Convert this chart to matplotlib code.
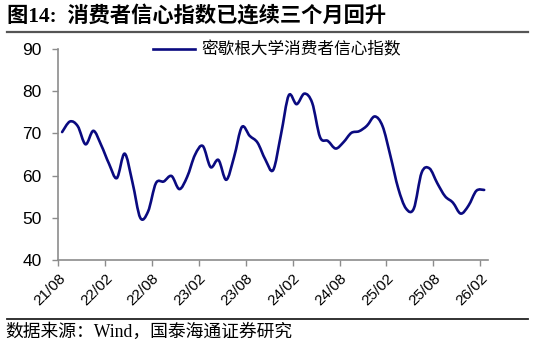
import numpy as np
import matplotlib.pyplot as plt
from matplotlib.path import Path
from matplotlib.patches import PathPatch
from matplotlib.lines import Line2D

plt.rcParams['font.family'] = ['Liberation Sans', 'Noto Sans CJK SC']

# 密歇根大学消费者信心指数, monthly 2021/08 - 2026/02
values = [70.3, 72.8, 71.7, 67.4, 70.6,
          67.2, 62.8, 59.4, 65.2, 58.4, 50.0, 51.5, 58.2, 58.6, 59.9, 56.8, 59.7,
          64.9, 67.0, 62.0, 63.7, 59.0, 64.4, 71.5, 69.4, 67.8, 63.8, 61.3, 69.7,
          79.0, 76.9, 79.4, 77.2, 69.1, 68.2, 66.4, 67.9, 70.1, 70.5, 71.8, 74.0,
          71.7, 64.7, 57.0, 52.2, 52.2, 60.7, 61.7, 58.2, 55.1, 53.6, 51.0, 52.9,
          56.4, 56.6]
tick_labels = ['21/08', '22/02', '22/08', '23/02', '23/08',
               '24/02', '24/08', '25/02', '25/08', '26/02']
series_name = '密歇根大学消费者信心指数'
title = '图14:  消费者信心指数已连续三个月回升'
source = '数据来源：Wind，国泰海通证券研究'

navy = '#0a0a80'

fig = plt.figure(figsize=(5.34, 3.44), dpi=100)
ax = fig.add_axes([0.109, 0.244, 0.805, 0.614])

# smooth line (Catmull-Rom -> cubic Bezier), like Excel's smoothed line
x = np.arange(len(values)) + 0.5
y = np.array(values)
pts = np.column_stack([x, y])
ext = np.vstack([pts[0], pts, pts[-1]])
verts = [pts[0]]
codes = [Path.MOVETO]
for i in range(len(pts) - 1):
    p0, p1, p2, p3 = ext[i], ext[i + 1], ext[i + 2], ext[i + 3]
    verts += [p1 + (p2 - p0) / 6, p2 - (p3 - p1) / 6, p2]
    codes += [Path.CURVE4] * 3
ax.add_patch(PathPatch(Path(verts, codes), facecolor='none',
                       edgecolor=navy, lw=1.9, capstyle='round', joinstyle='round'))

ax.set_xlim(0, len(values))
ax.set_ylim(40, 90)
ax.set_yticks(range(40, 91, 10))
ax.set_xticks(range(0, len(values), 6))
ax.set_xticklabels(tick_labels, rotation=45, ha='right', va='top',
                   rotation_mode='anchor', fontsize=11)
ax.tick_params(axis='y', labelsize=12.5, pad=8)
ax.tick_params(axis='x', pad=4)
ax.tick_params(direction='out', length=4, width=1, color='#8c8c8c')
for s in ['top', 'right']:
    ax.spines[s].set_visible(False)
for s in ['left', 'bottom']:
    ax.spines[s].set_color('#8c8c8c')
    ax.spines[s].set_linewidth(1.2)

handle = Line2D([], [], color=navy, lw=1.9)
fig.legend([handle], [series_name], loc='center left',
           bbox_to_anchor=(153 / 534, 1 - 50 / 344), frameon=False,
           borderpad=0, borderaxespad=0, handlelength=2.5, handletextpad=0.42,
           prop={'family': ['Noto Sans CJK SC'], 'size': 12})

fig.text(7 / 534, 1 - 17 / 344, title, fontsize=15.3, fontweight='bold',
         family=['Liberation Serif', 'Noto Sans CJK SC'], va='center', ha='left')
fig.add_artist(Line2D([7 / 534, 528 / 534], [1 - 32 / 344] * 2, color='#555555', lw=1.6))
fig.add_artist(Line2D([7 / 534, 528 / 534], [1 - 319 / 344] * 2, color='#222222', lw=1.3))
fig.text(5 / 534, 1 - 332 / 344, source, fontsize=12.8,
         family=['Liberation Serif', 'Noto Sans CJK SC'], va='center', ha='left')

fig.savefig('out.png', dpi=100)
